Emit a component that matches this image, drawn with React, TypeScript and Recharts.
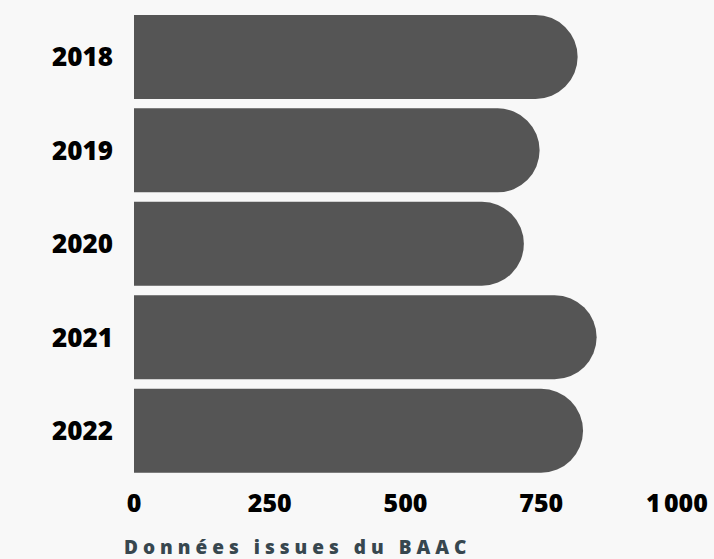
import React from 'react';
import { BarChart, Bar, XAxis, YAxis } from 'recharts';

// Données
const annees = ['2018', '2019', '2020', '2021', '2022'];
const valeurs = [817, 747, 718, 852, 827];
const xTicks = [0, 250, 500, 750, 1000];
const xTickLabels = ['0', '250', '500', '750', '1\u202F000'];

const data = annees.map((annee, i) => ({ annee, valeur: valeurs[i] }));

const tickStyle = {
  fontFamily: '"Open Sans", sans-serif',
  fontWeight: 800,
  fontSize: 25,
  fill: '#000000',
};

const App: React.FC = () => {
  return (
    <div
      style={{
        position: 'fixed',
        left: 0,
        top: 0,
        width: 714,
        height: 559,
        background: '#f8f8f8',
        overflow: 'hidden',
      }}
    >
      <BarChart
        width={714}
        height={559}
        data={data}
        layout="vertical"
        margin={{ top: 10.4, right: 37, bottom: 51.3, left: 0 }}
        barCategoryGap="4.8%"
      >
        <XAxis
          type="number"
          domain={[0, 1000]}
          ticks={xTicks}
          tickFormatter={(v) => xTickLabels[xTicks.indexOf(v)]}
          axisLine={false}
          tickLine={false}
          tickSize={0}
          tickMargin={17}
          tick={tickStyle}
          height={30}
          interval={0}
        />
        <YAxis
          type="category"
          dataKey="annee"
          width={134}
          axisLine={false}
          tickLine={false}
          tickSize={0}
          tickMargin={21}
          tick={{ ...tickStyle, fontSize: 26 }}
          interval={0}
        />
        <Bar dataKey="valeur" fill="#555555" radius={[0, 60, 60, 0]} isAnimationActive={false} />
      </BarChart>
      {/* Source */}
      <div
        style={{
          position: 'absolute',
          left: 124,
          top: 538,
          fontFamily: '"Open Sans", sans-serif',
          fontWeight: 800,
          fontSize: 19,
          lineHeight: '19px',
          letterSpacing: 5,
          color: '#37474f',
          whiteSpace: 'nowrap',
        }}
      >
        Données issues du BAAC
      </div>
    </div>
  );
};

export default App;
